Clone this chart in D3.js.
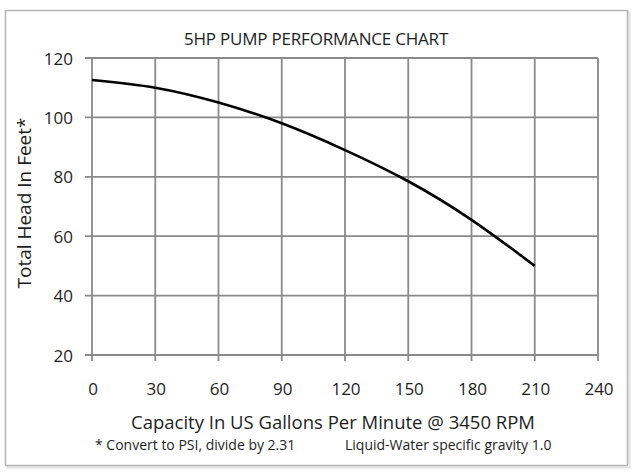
<!DOCTYPE html>
<html>
<head>
<meta charset="utf-8">
<script src="https://cdn.jsdelivr.net/npm/d3@7"></script>
<style>
  body { margin: 0; background: #fff; }
  text { font-family: "Open Sans", "Noto Sans", sans-serif; fill: #1e1e1e; }
</style>
</head>
<body>
<script>
const width = 635;
const height = 474;

// gallons per minute vs head in feet
const flow = [0, 30, 60, 90, 120, 150, 180, 210];
const head = [112.6, 110, 105, 98, 89, 78.5, 65.5, 50];
const xTicks = [0, 30, 60, 90, 120, 150, 180, 210, 240];
const yTicks = [20, 40, 60, 80, 100, 120];

const margin = { top: 58, right: 37, bottom: 119, left: 92 };

const svg = d3.select("body")
    .append("svg")
    .attr("width", width)
    .attr("height", height);

// outer frame with a faint shadow
svg.append("rect")
    .attr("x", 7.5).attr("y", 12.5)
    .attr("width", 622).attr("height", 455)
    .attr("fill", "none")
    .attr("stroke", "#e2e2e2")
    .attr("stroke-width", 2);

svg.append("rect")
    .attr("x", 5.5).attr("y", 10.5)
    .attr("width", 622).attr("height", 455)
    .attr("fill", "#fff")
    .attr("stroke", "#b5b5b5")
    .attr("stroke-width", 1.5);

const x = d3.scaleLinear()
    .domain([0, 240])
    .range([margin.left, width - margin.right]);

const y = d3.scaleLinear()
    .domain([20, 120])
    .range([height - margin.bottom, margin.top]);

// grid
svg.append("g")
    .selectAll("line")
    .data(xTicks)
    .enter()
    .append("line")
    .attr("x1", d => x(d)).attr("x2", d => x(d))
    .attr("y1", y(120)).attr("y2", y(20) + 6)
    .attr("stroke", "#8a8a8a")
    .attr("stroke-width", 1.8);

svg.append("g")
    .selectAll("line")
    .data(yTicks)
    .enter()
    .append("line")
    .attr("x1", x(0) - 7).attr("x2", x(240))
    .attr("y1", d => y(d)).attr("y2", d => y(d))
    .attr("stroke", "#8a8a8a")
    .attr("stroke-width", 1.8);

// tick labels
svg.append("g")
    .selectAll("text")
    .data(xTicks)
    .enter()
    .append("text")
    .attr("x", d => x(d) + 1)
    .attr("y", 395)
    .attr("text-anchor", "middle")
    .attr("font-size", 17)
    .text(d => d);

svg.append("g")
    .selectAll("text")
    .data(yTicks)
    .enter()
    .append("text")
    .attr("x", 73)
    .attr("y", d => y(d) + 6.5)
    .attr("text-anchor", "end")
    .attr("font-size", 17)
    .text(d => d);

// pump curve
const line = d3.line()
    .x((d, i) => x(flow[i]))
    .y(d => y(d))
    .curve(d3.curveNatural);

svg.append("path")
    .datum(head)
    .attr("d", line)
    .attr("fill", "none")
    .attr("stroke", "#000")
    .attr("stroke-width", 2.6);

// titles
svg.append("text")
    .attr("x", 316).attr("y", 45)
    .attr("text-anchor", "middle")
    .attr("font-size", 17)
    .attr("letter-spacing", -0.2)
    .text("5HP PUMP PERFORMANCE CHART");

svg.append("text")
    .attr("x", 333).attr("y", 429)
    .attr("text-anchor", "middle")
    .attr("font-size", 18.5)
    .text("Capacity In US Gallons Per Minute @ 3450 RPM");

svg.append("text")
    .attr("transform", "translate(31,203) rotate(-90)")
    .attr("text-anchor", "middle")
    .attr("font-size", 19)
    .text("Total Head In Feet*");

svg.append("text")
    .attr("x", 95).attr("y", 450)
    .attr("font-size", 14)
    .text("* Convert to PSI, divide by 2.31");

svg.append("text")
    .attr("x", 345).attr("y", 450)
    .attr("font-size", 14)
    .text("Liquid-Water specific gravity 1.0");
</script>
</body>
</html>
